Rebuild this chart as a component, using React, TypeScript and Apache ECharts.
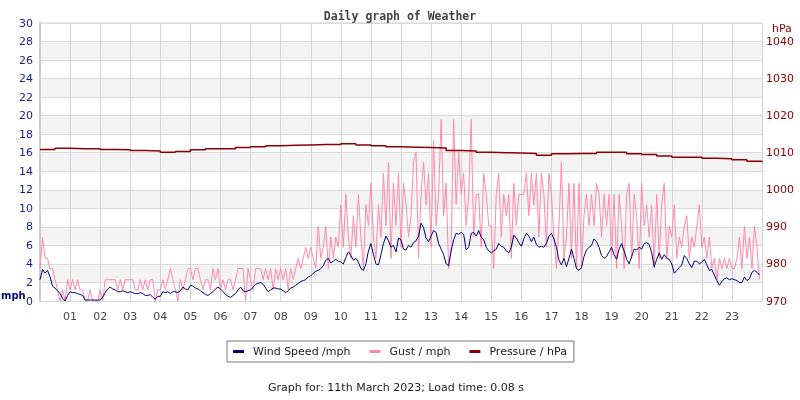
import React, { useEffect, useRef } from "react";
import * as echarts from "echarts";

// 5-minute samples, 12 per hour (mph)
const WIND_SPEED: number[] = [
  2.3, 3.4, 3.0, 3.3, 2.6, 1.6, 1.4, 1.1, 0.8, 0.3, 0.0, 0.6,
  1.0, 0.9, 0.9, 0.8, 0.7, 0.6, 0.1, 0.1, 0.1, 0.1, 0.1, 0.1,
  0.1, 0.4, 0.9, 1.3, 1.5, 1.3, 1.2, 1.0, 1.0, 1.1, 1.0, 0.9,
  1.0, 0.9, 0.8, 0.8, 0.9, 0.8, 0.6, 0.6, 0.7, 0.4, 0.2, 0.5,
  0.5, 1.0, 0.9, 1.0, 0.8, 1.0, 1.0, 0.9, 1.1, 1.5, 1.3, 1.2,
  1.7, 1.6, 1.4, 1.3, 1.1, 0.9, 0.7, 0.6, 0.8, 1.0, 1.3, 1.5,
  1.3, 1.0, 0.7, 0.5, 0.4, 0.6, 0.8, 1.2, 1.5, 1.1, 1.0, 1.1,
  1.2, 1.5, 1.8, 1.9, 2.0, 1.8, 1.4, 1.0, 1.2, 1.4, 1.4, 1.3,
  1.3, 1.1, 0.9, 1.1, 1.4, 1.5, 1.7, 1.9, 2.1, 2.2, 2.3, 2.6,
  2.7, 3.0, 3.2, 3.3, 3.5, 3.8, 4.4, 4.6, 4.1, 4.3, 4.5, 4.3,
  4.2, 4.0, 4.7, 5.3, 4.9, 4.4, 4.6, 4.2, 3.5, 3.3, 4.0, 5.4,
  6.2, 5.0, 4.0, 3.9, 5.0, 6.2, 7.0, 6.5, 5.8, 6.0, 5.3, 6.8,
  6.6, 5.6, 5.5, 6.0, 5.8, 6.3, 6.5, 7.0, 8.4, 7.9, 6.8, 6.4,
  7.0, 7.6, 7.4, 6.2, 5.6, 5.0, 4.0, 3.8, 5.4, 6.6, 7.3, 7.2,
  7.4, 7.2, 5.5, 5.8, 7.3, 7.4, 7.0, 7.6, 6.9, 6.6, 5.8, 5.4,
  5.2, 5.4, 5.6, 6.2, 5.9, 5.8, 5.4, 5.2, 5.8, 7.1, 6.8, 6.3,
  5.9, 6.7, 7.3, 7.0, 6.4, 6.9, 6.1, 5.8, 5.9, 5.8, 6.2, 7.0,
  7.3, 6.7, 5.8, 4.4, 3.9, 4.6, 3.7, 4.6, 5.6, 4.6, 3.5, 3.3,
  3.6, 4.8, 5.5, 5.8, 6.0, 6.7, 6.4, 5.8, 4.9, 4.6, 4.8, 5.3,
  5.8, 5.0, 4.5, 5.6, 6.2, 5.4, 4.5, 4.0, 4.8, 5.6, 5.5, 5.8,
  5.6, 6.2, 6.3, 6.1, 5.2, 3.7, 4.5, 5.2, 4.5, 5.0, 4.6, 4.5,
  4.0, 3.0, 3.3, 3.6, 3.9, 4.9, 4.6, 4.0, 3.6, 4.3, 4.3, 4.0,
  4.2, 4.5, 3.9, 3.3, 3.4, 2.8, 2.2, 1.7, 2.1, 2.4, 2.5, 2.3,
  2.4, 2.3, 2.2, 2.0, 2.0, 2.6, 2.2, 2.4, 3.1, 3.3, 3.1, 2.8,
];

const GUST: number[] = [
  3.5, 6.9, 4.6, 4.6, 3.5, 3.5, 2.3, 1.2, 0, 1.2, 0, 2.3,
  1.2, 2.3, 1.2, 2.3, 1.2, 1.2, 0, 0, 1.2, 0, 0, 0,
  1.2, 0, 2.3, 2.3, 2.3, 2.3, 2.3, 1.2, 2.3, 1.2, 2.3, 2.3,
  2.3, 2.3, 1.2, 1.2, 2.3, 1.2, 2.3, 1.2, 2.3, 2.3, 0, 1.2,
  1.2, 2.3, 1.2, 2.3, 3.5, 2.3, 1.2, 0, 2.3, 1.2, 2.3, 3.5,
  3.5, 2.3, 3.5, 3.5, 2.3, 1.2, 2.3, 2.3, 1.2, 3.5, 2.3, 3.5,
  1.2, 2.3, 1.2, 2.3, 2.3, 1.2, 2.3, 3.5, 3.5, 3.5, 0, 3.5,
  2.3, 1.2, 3.5, 3.5, 3.5, 2.3, 3.5, 2.3, 3.5, 1.2, 3.5, 2.3,
  3.5, 2.3, 3.5, 1.2, 3.5, 2.3, 3.5, 4.6, 3.5, 4.6, 5.8, 4.6,
  5.8, 4.6, 3.5, 8.1, 4.6, 5.8, 8.1, 3.5, 6.9, 4.6, 6.9, 5.8,
  10.4, 5.8, 11.5, 6.9, 4.6, 9.2, 5.8, 11.5, 6.9, 3.5, 10.4, 8.1,
  12.7, 6.9, 4.6, 10.4, 6.9, 13.8, 8.1, 15.0, 4.6, 12.7, 8.1, 13.8,
  5.8, 12.7, 10.4, 6.9, 9.2, 15.0, 16.1, 4.6, 11.5, 15.0, 10.4, 13.8,
  5.8, 17.3, 8.1, 11.5, 19.6, 9.2, 12.7, 3.5, 5.8, 19.6, 10.4, 16.1,
  11.5, 13.8, 8.1, 11.5, 19.6, 6.9, 11.5, 11.5, 5.8, 13.8, 11.5, 8.1,
  8.1, 3.5, 11.5, 13.8, 6.9, 11.5, 9.2, 11.5, 4.6, 12.7, 8.1, 11.5,
  11.5, 11.5, 13.8, 9.2, 13.8, 10.4, 13.8, 6.9, 13.8, 11.5, 5.8, 13.8,
  11.5, 6.9, 3.5, 8.1, 15.0, 4.6, 6.9, 12.7, 4.6, 12.7, 3.5, 12.7,
  3.5, 9.2, 11.5, 8.1, 11.5, 8.1, 12.7, 11.5, 6.9, 11.5, 8.1, 11.5,
  4.6, 11.5, 3.5, 11.5, 8.1, 3.5, 11.5, 12.7, 4.6, 11.5, 9.2, 3.5,
  12.7, 8.1, 10.4, 6.9, 10.4, 3.5, 11.5, 4.6, 10.4, 12.7, 4.6, 8.1,
  6.9, 10.4, 4.6, 6.9, 5.8, 8.1, 9.2, 4.6, 6.9, 5.8, 8.1, 10.4,
  5.8, 6.9, 4.6, 6.9, 3.5, 4.6, 2.3, 4.6, 3.5, 4.6, 3.5, 4.6,
  3.5, 3.5, 4.6, 6.9, 3.5, 8.1, 4.6, 6.9, 3.5, 8.1, 5.8, 2.3,
];

// 30-minute samples (hPa), 00:00 .. 24:00
const PRESSURE: number[] = [
  1010.9, 1011.2, 1011.1, 1011.1, 1010.9, 1010.8, 1010.6, 1010.5,
  1010.1, 1010.3, 1010.8, 1011.1, 1011.1, 1011.4, 1011.6, 1011.9,
  1012.0, 1012.1, 1012.2, 1012.2, 1012.4, 1012.1, 1011.9, 1011.6,
  1011.5, 1011.4, 1011.3, 1010.6, 1010.5, 1010.1, 1010.0, 1009.9,
  1009.8, 1009.3, 1009.7, 1009.8, 1009.8, 1010.1, 1010.1, 1009.7,
  1009.5, 1009.1, 1008.8, 1008.8, 1008.5, 1008.4, 1008.1, 1007.7,
  1007.4,
];

const SERIES_NAMES = ["Wind Speed /mph", "Gust / mph", "Pressure / hPa"];
const TITLE = "Daily graph of Weather";
const FOOTER = "Graph for: 11th March 2023; Load time: 0.08 s";

const WIND_STEP_H = 5 / 60;
const PRESSURE_STEP_H = 0.5;

export default function App() {
  const ref = useRef<HTMLDivElement>(null);

  useEffect(() => {
    if (!ref.current) return;
    const chart = echarts.init(ref.current, undefined, { renderer: "svg" });
    const windData = WIND_SPEED.map((v, i) => [i * WIND_STEP_H, v]);
    const gustData = GUST.map((v, i) => [i * WIND_STEP_H, v]);
    const presData = PRESSURE.map((v, i) => [i * PRESSURE_STEP_H, v]);

    const navy = "#000080";
    const pink = "#ff88aa";
    const darkRed = "#8b0000";

    chart.setOption({
      animation: false,
      textStyle: { fontFamily: "DejaVu Sans" },
      title: {
        text: TITLE,
        left: "center",
        top: 5,
        textStyle: {
          fontFamily: "DejaVu Sans Mono",
          fontWeight: "bold",
          fontSize: 11.5,
          color: "#444444",
        },
      },
      grid: {
        left: 40,
        right: 38,
        top: 23,
        bottom: 99,
        show: true,
        borderColor: "#cccccc",
        borderWidth: 1,
        backgroundColor: "transparent",
      },
      legend: {
        data: SERIES_NAMES,
        left: 227,
        top: 341,
        orient: "horizontal",
        icon: "rect",
        itemWidth: 11,
        itemHeight: 3,
        itemGap: 19,
        padding: [5, 7, 5, 6],
        borderColor: "#777777",
        borderWidth: 1,
        textStyle: {
          fontSize: 11,
          color: "#222222",
          fontFamily: "DejaVu Sans",
          padding: [0, 0, 0, 4],
        },
      },
      xAxis: {
        type: "value",
        min: 0,
        max: 24,
        interval: 1,
        axisLine: { show: false },
        axisTick: { show: false },
        axisLabel: {
          margin: 10,
          fontSize: 11,
          color: "#444444",
          formatter: (v: number) =>
            v === 0 || v === 24 ? "" : String(v).padStart(2, "0"),
        },
        splitLine: { show: true, lineStyle: { color: "#d4d4d4", width: 1 } },
      },
      yAxis: [
        {
          type: "value",
          min: 0,
          max: 30,
          interval: 2,
          position: "left",
          axisLine: { show: true, lineStyle: { color: "#cccccc", width: 2 } },
          axisTick: { show: false },
          axisLabel: { margin: 7, fontSize: 11, color: "#1c1c8c" },
          splitLine: { show: true, lineStyle: { color: "#dadada", width: 1 } },
          splitArea: { show: true, areaStyle: { color: ["#ffffff", "#f3f3f3"] } },
        },
        {
          type: "value",
          min: 970,
          max: 1045,
          interval: 10,
          position: "right",
          axisLine: { show: false },
          axisTick: { show: false },
          axisLabel: {
            margin: 4,
            fontSize: 11,
            color: darkRed,
            showMaxLabel: false,
            formatter: (v: number) => String(v),
          },
          splitLine: { show: false },
        },
      ],
      graphic: [
        {
          type: "text",
          left: 1,
          top: 290,
          style: {
            text: "mph",
            fill: navy,
            font: "bold 10px DejaVu Sans",
          },
        },
        {
          type: "text",
          left: 772,
          top: 23,
          style: {
            text: "hPa",
            fill: darkRed,
            font: "11px DejaVu Sans",
          },
        },
        {
          type: "text",
          x: 396,
          y: 387,
          style: {
            text: FOOTER,
            fill: "#222222",
            font: "11px DejaVu Sans",
            textAlign: "center",
            textVerticalAlign: "middle",
          },
        },
      ],
      series: [
        {
          name: SERIES_NAMES[1],
          type: "line",
          data: gustData,
          color: pink,
          showSymbol: false,
          symbol: "none",
          lineStyle: { width: 1, color: pink },
          z: 2,
        },
        {
          name: SERIES_NAMES[0],
          type: "line",
          data: windData,
          color: navy,
          showSymbol: false,
          symbol: "none",
          lineStyle: { width: 1, color: navy },
          z: 3,
        },
        {
          name: SERIES_NAMES[2],
          type: "line",
          yAxisIndex: 1,
          data: presData,
          color: darkRed,
          step: "end",
          showSymbol: false,
          symbol: "none",
          lineStyle: { width: 1.5, color: darkRed },
          z: 4,
        },
      ],
    });
    return () => chart.dispose();
  }, []);

  return (
    <div
      ref={ref}
      style={{ position: "fixed", left: 0, top: 0, width: 800, height: 400 }}
    />
  );
}
